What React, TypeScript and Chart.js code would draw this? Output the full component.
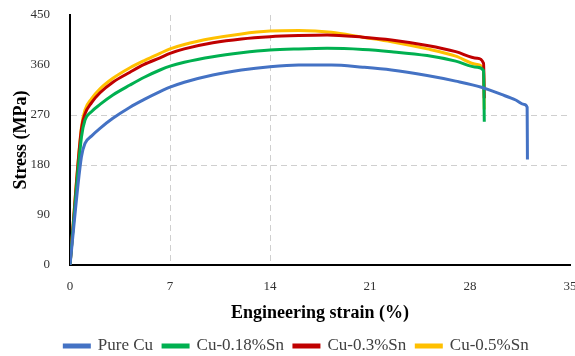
import React, { useEffect, useRef } from "react";
import { Chart, registerables } from "chart.js";

Chart.register(...registerables);

const seriesNames = ["Pure Cu", "Cu-0.18%Sn", "Cu-0.3%Sn", "Cu-0.5%Sn"];
const seriesColors = ["#4472C4", "#00B050", "#C00000", "#FFC000"];

const pureCuStrain = [0, 0.8, 1.05, 1.5, 2.1, 3, 4.2, 5.2, 6.3, 7, 8, 10, 12, 14, 16, 18.3, 20.5, 22.5, 25, 27, 28.8, 30.2, 31.2, 31.8, 32, 32.02];
const pureCuStress = [0, 195, 219, 232, 246, 264, 284, 298, 312, 320, 329, 342, 351, 357, 360, 360, 356, 351, 341, 331, 320, 307, 297, 289, 284, 190];

const sn018Strain = [0, 0.8, 1.05, 1.5, 2.1, 3, 4.2, 5.2, 6.3, 7, 8, 10, 12, 14, 16, 18, 20.5, 22.5, 25, 27, 28.5, 28.95, 29];
const sn018Stress = [0, 230, 261, 276, 289, 306, 324, 338, 351, 358, 365, 375, 382, 387, 389, 390, 388, 384, 377, 367, 356, 350, 258];

const sn03Strain = [0, 0.8, 1.05, 1.5, 2.1, 3, 4.2, 5.2, 6.3, 7, 8, 10, 12, 14, 16, 18, 20.5, 22.5, 25, 27, 28.5, 28.95, 29];
const sn03Stress = [0, 245, 272, 292, 310, 329, 347, 361, 373, 381, 389, 400, 407, 411, 413, 414, 410, 405, 395, 384, 372, 363, 300];

const sn05Strain = [0, 0.8, 1.05, 1.5, 2.1, 3, 4.2, 5.2, 6.3, 7, 8, 10, 12, 14, 16, 18.3, 20.5, 22.5, 25, 27, 28.5, 28.95, 29];
const sn05Stress = [0, 248, 279, 299, 317, 336, 355, 368, 381, 389, 397, 408, 416, 421, 422, 419, 410, 402, 389, 376, 361, 350, 280];

const xTicks = [0, 7, 14, 21, 28, 35];
const yTicks = [0, 90, 180, 270, 360, 450];
const xGridShown = [7, 14];
const yGridShown = [180, 270];

const toPoints = (xs: number[], ys: number[]) => xs.map((x, i) => ({ x, y: ys[i] }));

const LEGEND_DX = 6;
const LEGEND_DY = 8.5;

const legendShift = {
  id: "legendShift",
  afterLayout(chart: any) {
    const l = chart.legend;
    if (!l) return;
    l.top += LEGEND_DY;
    l.bottom += LEGEND_DY;
    l.left += LEGEND_DX;
    l.right += LEGEND_DX;
  },
};

export default function App() {
  const ref = useRef<HTMLCanvasElement>(null);
  useEffect(() => {
    if (!ref.current) return;
    const all = [
      toPoints(pureCuStrain, pureCuStress),
      toPoints(sn018Strain, sn018Stress),
      toPoints(sn03Strain, sn03Stress),
      toPoints(sn05Strain, sn05Stress),
    ];
    const font = "'Liberation Serif', 'Times New Roman', serif";
    const chart = new Chart(ref.current, {
      type: "scatter",
      data: {
        datasets: all.map((pts, i) => ({
          label: seriesNames[i],
          data: pts,
          showLine: true,
          borderColor: seriesColors[i],
          backgroundColor: seriesColors[i],
          borderWidth: 3,
          pointRadius: 0,
          cubicInterpolationMode: "monotone",
        })),
      },
      plugins: [legendShift],
      options: {
        responsive: false,
        animation: false,
        layout: { padding: { left: 11, right: 5, top: 15, bottom: 0 } },
        plugins: {
          legend: {
            position: "bottom",
            labels: {
              font: { family: font, size: 17 },
              color: "#404040",
              boxWidth: 25,
              boxHeight: 2,
              padding: 10,
            },
          },
          tooltip: { enabled: false },
        },
        scales: {
          x: {
            type: "linear",
            min: 0,
            max: 35,
            afterBuildTicks: (s: any) => { s.ticks = xTicks.map((v) => ({ value: v })); },
            afterFit: (s: any) => { s.height = 54; s.paddingLeft = 0; s.paddingRight = 0; },
            ticks: { font: { family: font, size: 13 }, color: "#333", padding: 14 },
            grid: {
              color: (c: any) => (c.tick && xGridShown.includes(c.tick.value) ? "#cfcfcf" : "rgba(0,0,0,0)"),
              drawTicks: false,
              lineWidth: 1,
            },
            border: { color: "#000", width: 2, dash: [6, 4] },
            title: { display: true, text: "Engineering strain (%)", font: { family: font, size: 18, weight: "bold" }, color: "#000", padding: { top: 4, bottom: -5 } },
          },
          y: {
            min: 0,
            max: 450,
            afterBuildTicks: (s: any) => { s.ticks = yTicks.map((v) => ({ value: v })); },
            afterFit: (s: any) => { s.width = 59; s.paddingTop = 0; s.paddingBottom = 0; },
            ticks: { font: { family: font, size: 13 }, color: "#333", padding: 20 },
            grid: {
              color: (c: any) => (c.tick && yGridShown.includes(c.tick.value) ? "#cfcfcf" : "rgba(0,0,0,0)"),
              drawTicks: false,
              lineWidth: 1,
            },
            border: { color: "#000", width: 2, dash: [6, 4] },
            title: { display: true, text: "Stress (MPa)", font: { family: font, size: 18, weight: "bold" }, color: "#000", padding: { top: 0, bottom: 4 } },
          },
        },
      },
    });
    return () => chart.destroy();
  }, []);
  return (
    <div style={{ position: "fixed", left: 0, top: 0, width: 575, height: 356, background: "#fff" }}>
      <canvas ref={ref} width={575} height={356} />
    </div>
  );
}
